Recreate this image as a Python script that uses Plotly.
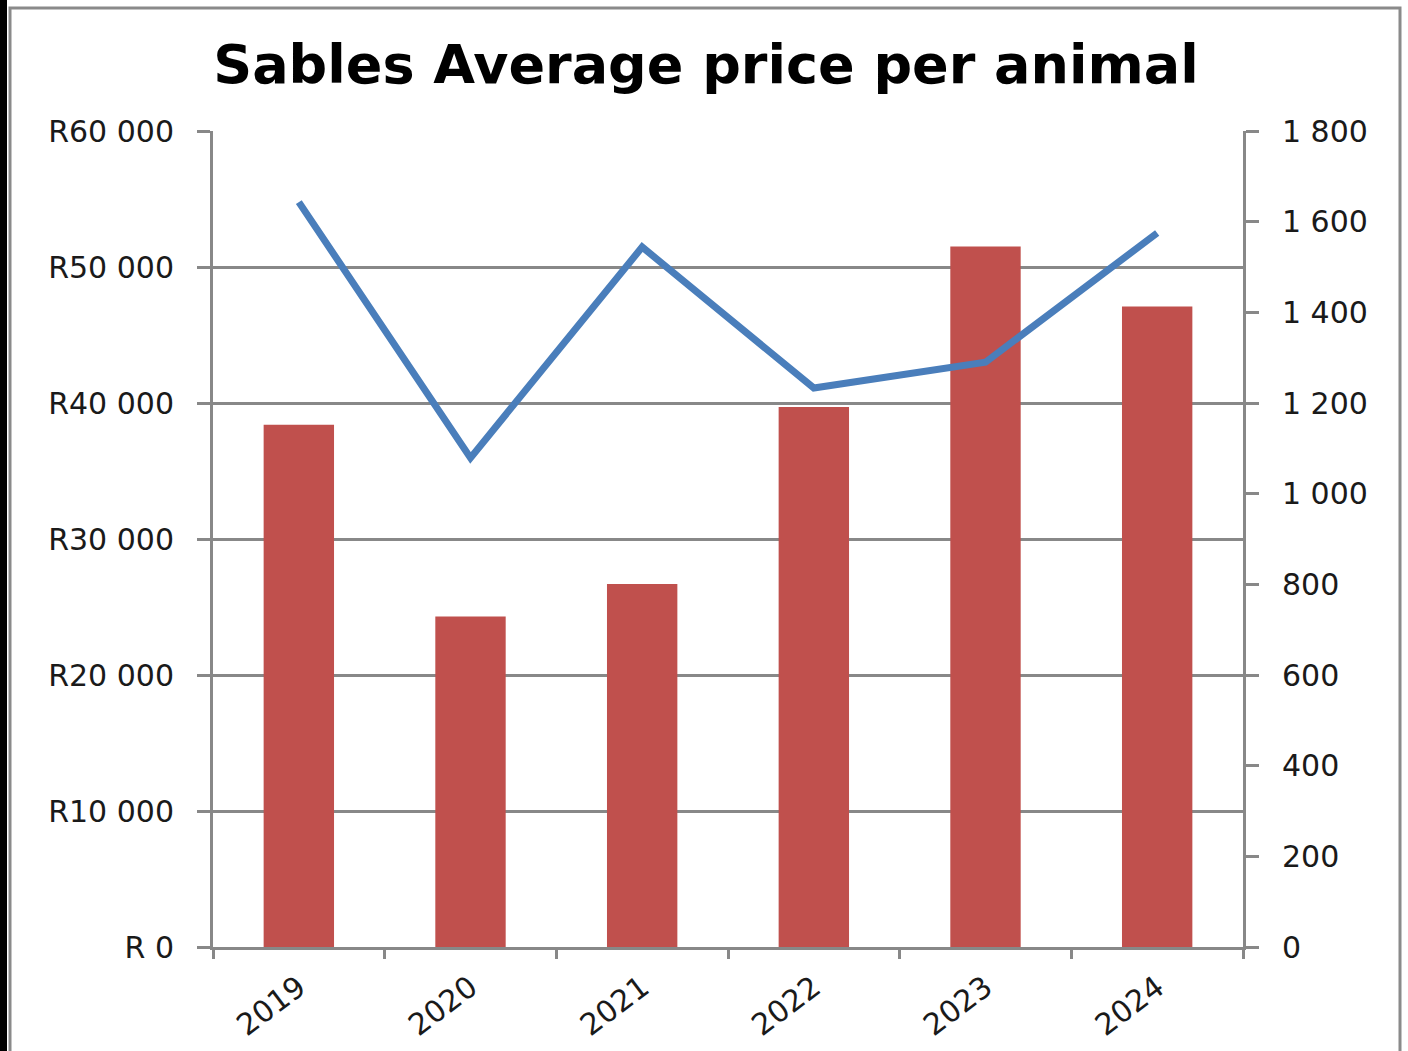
import plotly.graph_objects as go

years = ["2019", "2020", "2021", "2022", "2023", "2024"]
avg_price = [38400, 24300, 26700, 39700, 51500, 47100]
animals = [1643, 1079, 1544, 1233, 1290, 1575]

left_tickvals = [0, 10000, 20000, 30000, 40000, 50000, 60000]
left_ticktext = ["R 0", "R10 000", "R20 000", "R30 000", "R40 000", "R50 000", "R60 000"]
right_tickvals = [0, 200, 400, 600, 800, 1000, 1200, 1400, 1600, 1800]
right_ticktext = ["0", "200", "400", "600", "800", "1 000", "1 200", "1 400", "1 600", "1 800"]

W, H = 1408, 1051
L, R, T, B = 213, 165, 131, 104
pw, ph = W - L - R, H - T - B

def px(x):
    return (x - L) / pw

def py(y):
    return 1 - (y - T) / ph

fig = go.Figure()
fig.add_trace(go.Bar(x=years, y=avg_price, marker=dict(color="#C0504D", line=dict(width=0)),
                     width=0.41, yaxis="y", name="Average price"))
fig.add_trace(go.Scatter(x=years, y=animals, mode="lines", line=dict(color="#4A7EBB", width=7),
                         yaxis="y2", name="Animals"))

grid = "#888888"
tickfont = dict(family="DejaVu Sans", size=30, color="#1a1a1a")
fig.update_layout(
    width=W, height=H,
    margin=dict(l=L, r=R, t=T, b=B, autoexpand=False),
    paper_bgcolor="white", plot_bgcolor="white",
    showlegend=False,
    bargap=0.59,
    title=dict(text="<b>Sables Average price per animal</b>",
               font=dict(family="DejaVu Sans", size=54, color="black"),
               x=706 / W, xref="container", xanchor="center",
               y=1 - 64 / H, yref="container", yanchor="middle"),
    xaxis=dict(type="category", showline=True, linecolor=grid, linewidth=3,
               ticks="outside", tickson="boundaries", ticklen=9, tickwidth=3, tickcolor=grid,
               tickangle=-37, tickfont=tickfont, showgrid=False, zeroline=False,
               ticklabelstandoff=8),
    yaxis=dict(range=[0, 60000], tickvals=left_tickvals, ticktext=left_ticktext,
               showline=True, linecolor=grid, linewidth=3,
               ticks="outside", ticklen=13, tickwidth=3, tickcolor=grid,
               showgrid=True, gridcolor=grid, gridwidth=2.5, zeroline=False,
               tickfont=tickfont, ticklabelstandoff=17),
    yaxis2=dict(range=[0, 1800], tickvals=right_tickvals, ticktext=right_ticktext,
                overlaying="y", side="right", showline=True, linecolor=grid, linewidth=3,
                ticks="outside", ticklen=13, tickwidth=3, tickcolor=grid,
                showgrid=False, zeroline=False, tickfont=tickfont, ticklabelstandoff=17),
    shapes=[
        dict(type="rect", xref="paper", yref="paper", x0=px(0), x1=px(7), y0=py(H + 5), y1=py(-5),
             fillcolor="black", line=dict(width=0), layer="above"),
        dict(type="rect", xref="paper", yref="paper", x0=px(10), x1=px(1400), y0=py(H + 20), y1=py(8),
             fillcolor="rgba(0,0,0,0)", line=dict(color="#8a8a8a", width=3), layer="above"),
    ],
)

fig.write_html("out.html", config={"displayModeBar": False},
               post_script="document.body.style.margin='0';document.body.style.overflow='hidden';")
